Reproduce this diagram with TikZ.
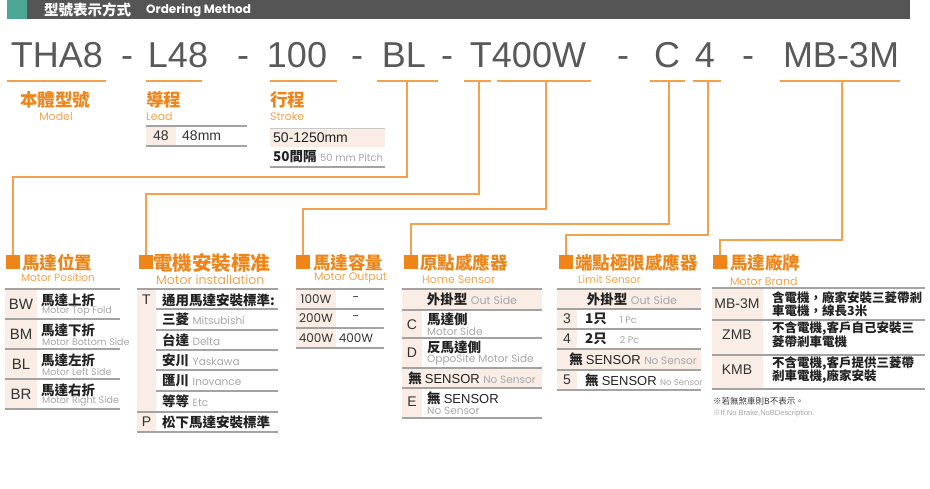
\documentclass[tikz,border=0pt]{standalone}
\usepackage{fontspec}
\setmainfont{Liberation Sans}
\newfontfamily\cjk{Noto Sans CJK TC}
\newfontfamily\geo{Poppins}

\definecolor{headgray}{HTML}{555555}
\definecolor{headteal}{HTML}{4DA796}
\definecolor{codegray}{HTML}{595959}
\definecolor{linkorange}{HTML}{F3A24B}
\definecolor{titleorange}{HTML}{EF8418}
\definecolor{suborange}{HTML}{F2A44F}
\definecolor{cellpink}{HTML}{F9EDE5}
\definecolor{rulegray}{HTML}{A3A3A3}
\definecolor{tagtext}{HTML}{333333}
\definecolor{cntext}{HTML}{222222}
\definecolor{engray}{HTML}{A6A6A6}

\newcommand\engr[2][10]{\hspace{3.5pt}{\geo\mdseries\fontsize{#1}{#1}\selectfont\color{engray}#2}}
\newcommand\sensortxt{{\rmfamily\mdseries\fontsize{13}{15}\selectfont SENSOR}}

\tikzset{
  link/.style={draw=linkorange,line width=1.2pt},
  rule/.style={draw=rulegray,line width=1.3pt},
  sq/.style={fill=titleorange,minimum size=14pt,inner sep=0pt},
  head/.style={anchor=west,inner sep=0pt,text=titleorange,font=\cjk\bfseries\fontsize{17.5}{19}\selectfont},
  sub/.style={anchor=west,inner sep=0pt,text=suborange,font=\geo\fontsize{11}{12}\selectfont},
  big/.style={anchor=base,inner sep=0pt,text=codegray,font=\fontsize{36}{40}\selectfont},
  tag/.style={inner sep=0pt,text=tagtext,font=\fontsize{14}{16}\selectfont},
  cn/.style={anchor=west,inner sep=0pt,text=cntext,font=\cjk\bfseries\fontsize{13.5}{15}\selectfont},
  en/.style={anchor=west,inner sep=0pt,text=engray,font=\geo\fontsize{9.5}{11}\selectfont},
  watt/.style={inner sep=0pt,text=tagtext,font=\geo\fontsize{12}{14}\selectfont},
}

\begin{document}
\begin{tikzpicture}[x=1pt,y=-1pt]
\useasboundingbox (0,0) rectangle (930,488);
% title bar
\fill[headgray] (27,0) rectangle (910,19);
\fill[headteal] (7,0) rectangle (27,19);
\node[anchor=west,inner sep=0pt,text=white,font=\cjk\bfseries\fontsize{14.5}{16}\selectfont] (ttl) at (44,10) {型號表示方式};
\node[anchor=west,inner sep=0pt,text=white,font=\geo\bfseries\fontsize{12}{13}\selectfont] (ttlen) at (146,10) {Ordering Method};

% model code
\foreach \t/\x [count=\i] in {THA8/57,-/127,L48/178,-/243,100/297,-/357,BL/404,-/447,T400W/528,-/623,C/667,4/705,-/748,MB-3M/841}
  \node[big] (k\i) at (\x,67) {\t};
\foreach \a/\b in {7/106,146/202,270/337,377/438,464/491,497/591,650/685,693/721,780/900}
  \draw[link] (\a,81) -- (\b,81);
\coordinate (sBL) at (407,81);
\coordinate (sT) at (479,81);
\coordinate (sW) at (546,81);
\coordinate (sC) at (669,81);
\coordinate (sN) at (708,81);
\coordinate (sMB) at (842,81);

% model, lead, stroke
\node[head,anchor=center] (hModel) at (55,100) {本體型號};
\node[sub,anchor=center] (eModel) at (56,116) {Model};
\node[head] (hLead) at (146,100) {導程};
\node[sub] (eLead) at (146,116) {Lead};
\node[head] (hStroke) at (270,100) {行程};
\node[sub] (eStroke) at (270,116) {Stroke};

\fill[cellpink] (146,127) rectangle (176,145);
\draw[rule] (146,126) -- (247,126);
\draw[rule] (146,146) -- (247,146);
\node[tag] (lead1) at (161,136) {48};
\node[tag,anchor=west] (lead2) at (182,136) {48mm};

\fill[cellpink] (270,128) rectangle (385,147);
\draw[rulegray!60,line width=0.8pt] (270,128) -- (385,128);
\draw[rule] (270,167) -- (385,167);
\node[tag,anchor=west,text=cntext] (str1) at (273,137.5) {50-1250mm};
\node[cn] (str2) at (273,157) {50間隔\engr[10]{50 mm Pitch}};

% section squares and headings
\node[sq] (qPos) at (13,262) {};
\node[sq] (qMot) at (146,262) {};
\node[sq] (qOut) at (303,262) {};
\node[sq] (qHome) at (411,262) {};
\node[sq] (qLim) at (566,262) {};
\node[sq] (qBrand) at (720,262) {};

\draw[link] (sBL) -- ++(0,96) -| (qPos);
\draw[link] (sT) -- ++(0,113) -| (qMot);
\draw[link] (sW) -- ++(0,128) -| (qOut);
\draw[link] (sC) -- ++(0,143) -| (qHome);
\draw[link] (sN) -- ++(0,154) -| (qLim);
\draw[link] (sMB) -- ++(0,159) -| (qBrand);

\node[head] (hPos) at (22,263) {馬達位置};
\node[sub,font=\geo\fontsize{10.5}{12}\selectfont] (ePos) at (21,278) {Motor Position};
\node[head,font=\cjk\bfseries\fontsize{19.5}{21}\selectfont] (hMot) at (153,263) {電機安裝標准};
\node[sub,font=\geo\fontsize{12.5}{14}\selectfont] (eMot) at (156,280) {Motor installation};
\node[head] (hOut) at (313,263) {馬達容量};
\node[sub] (eOut) at (314,278) {Motor Output};
\node[head] (hHome) at (420,263) {原點感應器};
\node[sub] (eHome) at (422,280) {Home Sensor};
\node[head] (hLim) at (575,263) {端點極限感應器};
\node[sub,font=\geo\fontsize{10.5}{12}\selectfont] (eLim) at (578,280) {Limit Sensor};
\node[head] (hBrand) at (730,263) {馬達廠牌};
\node[sub] (eBrand) at (730,281) {Motor Brand};

% motor position
\fill[cellpink] (5,289) rectangle (37,409);
\foreach \y in {289,319,349,379,409} \draw[rule] (5,\y) -- (120,\y);
\foreach \cd/\zh/\ee [count=\i] in {BW/上/Motor Top Fold,BM/下/Motor Bottom Side,BL/左/Motor Left Side,BR/右/Motor Right Side} {
  \pgfmathsetmacro\yy{274+30*\i}
  \node[tag,font=\fontsize{15}{17}\selectfont] (pc\i) at (21,\yy) {\cd};
  \node[cn] (pz\i) at (41,\yy-4) {馬達\zh 折};
  \node[en] (pe\i) at (42,\yy+7.5) {\ee};
}

% motor installation
\fill[cellpink] (137,289) rectangle (156,432);
\draw[rule] (137,289) -- (278,289);
\foreach \y in {309,330,350,370,391} \draw[rule] (156,\y) -- (278,\y);
\draw[rule] (137,412) -- (278,412);
\draw[rule] (137,432) -- (278,432);
\node[tag] (mT) at (146.5,300) {T};
\node[cn] (m0) at (162,300) {通用馬達安裝標準:};
\foreach \zh/\ee [count=\i] in {三菱/Mitsubishi,台達/Delta,安川/Yaskawa,匯川/Inovance,等等/Etc} {
  \pgfmathsetmacro\yy{299.5+20.3*\i}
  \node[cn] (mb\i) at (162,\yy) {\zh\engr[10.5]{\ee}};
}
\node[tag] (mP) at (146.5,422) {P};
\node[cn] (m7) at (162,422) {松下馬達安裝標準};

% motor output
\fill[cellpink] (296,289) rectangle (336,348);
\foreach \y in {289,309,328,348} \draw[rule] (296,\y) -- (384,\y);
\foreach \a/\b [count=\i] in {100W/-,200W/-,400W/400W} {
  \pgfmathsetmacro\yy{279.5+19.5*\i}
  \node[watt] (wa\i) at (316,\yy) {\a};
  \node[watt] (wb\i) at (356,\yy) {\b};
}

% home sensor
\fill[cellpink] (402,289) rectangle (542,310);
\fill[cellpink] (402,310) rectangle (422,368);
\fill[cellpink] (402,368) rectangle (542,388);
\fill[cellpink] (402,388) rectangle (422,418);
\foreach \y in {289,310,338,368,388,418} \draw[rule] (402,\y) -- (542,\y);
\node[cn,anchor=center] (ho0) at (472,299.5) {外掛型\engr[11]{Out Side}};
\node[tag] (hoC) at (412,325) {C};
\node[cn] (hoC1) at (427,319) {馬達側};
\node[en,font=\geo\fontsize{10.5}{12}\selectfont] (hoC2) at (427,332) {Motor Side};
\node[tag] (hoD) at (412,353) {D};
\node[cn] (hoD1) at (427,347) {反馬達側};
\node[en,font=\geo\fontsize{10.5}{12}\selectfont] (hoD2) at (427,360) {OppoSite Motor Side};
\node[cn,anchor=center] (hoN) at (472,378) {無 \sensortxt\engr[10.5]{No Sensor}};
\node[tag] (hoE) at (412,402) {E};
\node[cn] (hoE1) at (427,398) {無 \sensortxt};
\node[en,font=\geo\fontsize{10.5}{12}\selectfont] (hoE2) at (427,411) {No Sensor};

% limit sensor
\fill[cellpink] (557,289) rectangle (701,309);
\fill[cellpink] (557,309) rectangle (577,349);
\fill[cellpink] (557,349) rectangle (701,370);
\fill[cellpink] (557,370) rectangle (577,390);
\foreach \y in {289,309,329,349,370,390} \draw[rule] (557,\y) -- (701,\y);
\node[cn,anchor=center] (li0) at (632,299) {外掛型\engr[11]{Out Side}};
\node[tag] (li3) at (567,319) {3};
\node[cn] (li3t) at (585,319) {1只\engr[9.5]{\quad 1 Pc}};
\node[tag] (li4) at (567,339) {4};
\node[cn] (li4t) at (585,339) {2只\engr[9.5]{\quad 2 Pc}};
\node[cn,anchor=center] (liN) at (633,359.5) {無 \sensortxt\engr[10.5]{No Sensor}};
\node[tag] (li5) at (567,380) {5};
\node[cn] (li5t) at (585,380) {無 \sensortxt\engr[8.5]{No Sensor}};

% motor brand
\fill[cellpink] (712,288) rectangle (763,389);
\foreach \y in {288,320,355,389} \draw[rule] (712,\y) -- (925,\y);
\foreach \cd/\la/\lb/\yc [count=\i] in {MB-3M/含電機，廠家安裝三菱帶剎/車電機，線長3米/304,ZMB/不含電機{,}客戶自己安裝三/菱帶剎車電機/335,KMB/不含電機{,}客戶提供三菱帶/剎車電機{,}廠家安裝/370} {
  \node[tag] (bc\i) at (737,\yc) {\cd};
  \node[cn,font=\cjk\bfseries\fontsize{12.5}{14}\selectfont] (ba\i) at (772,\yc-6.5) {\la};
  \node[cn,font=\cjk\bfseries\fontsize{12.5}{14}\selectfont] (bb\i) at (772,\yc+6.5) {\lb};
}
\node[anchor=west,inner sep=0pt,text=tagtext,font=\cjk\fontsize{8.5}{10}\selectfont] (note1) at (713,401) {※若無煞車則B不表示。};
\node[anchor=west,inner sep=0pt,text=engray,font=\fontsize{7.5}{9}\selectfont] (note2) at (713,413) {{\cjk ※}If No Brake,NoBDescription.};
\end{tikzpicture}
\end{document}
